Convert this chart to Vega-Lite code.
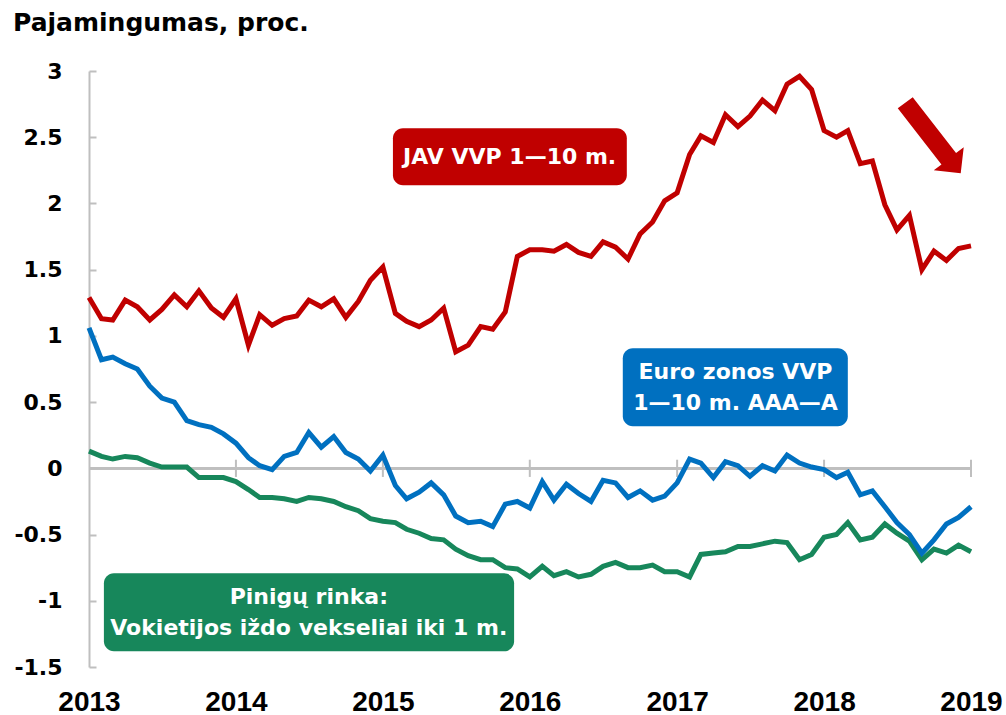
{
  "$schema": "https://vega.github.io/schema/vega-lite/v6.json",
  "autosize": {"type": "none"},
  "width": 882,
  "height": 596,
  "padding": {"left": 89, "top": 71, "right": 35, "bottom": 48},
  "background": "white",
  "config": {"view": {"stroke": null}, "axis": {"grid": false}},
  "title": {"text": "Pajamingumas, proc.", "anchor": "start", "frame": "group", "dx": -76, "offset": -1, "baseline": "bottom", "font": "DejaVu Sans", "fontSize": 25, "fontWeight": "bold", "color": "#000000"},
  "datasets": {
    "series": [
      {"date": "2013-01-01", "us": 1.29, "eu": 1.06, "de": 0.13},
      {"date": "2013-02-01", "us": 1.13, "eu": 0.82, "de": 0.09},
      {"date": "2013-03-01", "us": 1.12, "eu": 0.84, "de": 0.07},
      {"date": "2013-04-01", "us": 1.27, "eu": 0.79, "de": 0.09},
      {"date": "2013-05-01", "us": 1.22, "eu": 0.75, "de": 0.08},
      {"date": "2013-06-01", "us": 1.12, "eu": 0.62, "de": 0.04},
      {"date": "2013-07-01", "us": 1.20, "eu": 0.53, "de": 0.01},
      {"date": "2013-08-01", "us": 1.31, "eu": 0.50, "de": 0.01},
      {"date": "2013-09-01", "us": 1.22, "eu": 0.36, "de": 0.01},
      {"date": "2013-10-01", "us": 1.34, "eu": 0.33, "de": -0.07},
      {"date": "2013-11-01", "us": 1.21, "eu": 0.31, "de": -0.07},
      {"date": "2013-12-01", "us": 1.14, "eu": 0.26, "de": -0.07},
      {"date": "2014-01-01", "us": 1.28, "eu": 0.19, "de": -0.10},
      {"date": "2014-02-01", "us": 0.93, "eu": 0.08, "de": -0.16},
      {"date": "2014-03-01", "us": 1.16, "eu": 0.02, "de": -0.22},
      {"date": "2014-04-01", "us": 1.08, "eu": -0.01, "de": -0.22},
      {"date": "2014-05-01", "us": 1.13, "eu": 0.09, "de": -0.23},
      {"date": "2014-06-01", "us": 1.15, "eu": 0.12, "de": -0.25},
      {"date": "2014-07-01", "us": 1.27, "eu": 0.27, "de": -0.22},
      {"date": "2014-08-01", "us": 1.22, "eu": 0.16, "de": -0.23},
      {"date": "2014-09-01", "us": 1.28, "eu": 0.24, "de": -0.25},
      {"date": "2014-10-01", "us": 1.14, "eu": 0.12, "de": -0.29},
      {"date": "2014-11-01", "us": 1.26, "eu": 0.07, "de": -0.32},
      {"date": "2014-12-01", "us": 1.42, "eu": -0.02, "de": -0.38},
      {"date": "2015-01-01", "us": 1.52, "eu": 0.10, "de": -0.40},
      {"date": "2015-02-01", "us": 1.17, "eu": -0.13, "de": -0.41},
      {"date": "2015-03-01", "us": 1.11, "eu": -0.23, "de": -0.46},
      {"date": "2015-04-01", "us": 1.07, "eu": -0.18, "de": -0.49},
      {"date": "2015-05-01", "us": 1.12, "eu": -0.11, "de": -0.53},
      {"date": "2015-06-01", "us": 1.21, "eu": -0.20, "de": -0.54},
      {"date": "2015-07-01", "us": 0.88, "eu": -0.36, "de": -0.61},
      {"date": "2015-08-01", "us": 0.93, "eu": -0.41, "de": -0.66},
      {"date": "2015-09-01", "us": 1.07, "eu": -0.40, "de": -0.69},
      {"date": "2015-10-01", "us": 1.05, "eu": -0.44, "de": -0.69},
      {"date": "2015-11-01", "us": 1.18, "eu": -0.27, "de": -0.75},
      {"date": "2015-12-01", "us": 1.60, "eu": -0.25, "de": -0.76},
      {"date": "2016-01-01", "us": 1.65, "eu": -0.30, "de": -0.82},
      {"date": "2016-02-01", "us": 1.65, "eu": -0.10, "de": -0.74},
      {"date": "2016-03-01", "us": 1.64, "eu": -0.24, "de": -0.81},
      {"date": "2016-04-01", "us": 1.69, "eu": -0.12, "de": -0.78},
      {"date": "2016-05-01", "us": 1.63, "eu": -0.19, "de": -0.82},
      {"date": "2016-06-01", "us": 1.60, "eu": -0.25, "de": -0.80},
      {"date": "2016-07-01", "us": 1.71, "eu": -0.09, "de": -0.74},
      {"date": "2016-08-01", "us": 1.67, "eu": -0.11, "de": -0.71},
      {"date": "2016-09-01", "us": 1.58, "eu": -0.22, "de": -0.75},
      {"date": "2016-10-01", "us": 1.77, "eu": -0.17, "de": -0.75},
      {"date": "2016-11-01", "us": 1.86, "eu": -0.24, "de": -0.73},
      {"date": "2016-12-01", "us": 2.02, "eu": -0.21, "de": -0.78},
      {"date": "2017-01-01", "us": 2.08, "eu": -0.11, "de": -0.78},
      {"date": "2017-02-01", "us": 2.37, "eu": 0.07, "de": -0.82},
      {"date": "2017-03-01", "us": 2.51, "eu": 0.04, "de": -0.65},
      {"date": "2017-04-01", "us": 2.46, "eu": -0.07, "de": -0.64},
      {"date": "2017-05-01", "us": 2.67, "eu": 0.05, "de": -0.63},
      {"date": "2017-06-01", "us": 2.58, "eu": 0.02, "de": -0.59},
      {"date": "2017-07-01", "us": 2.66, "eu": -0.06, "de": -0.59},
      {"date": "2017-08-01", "us": 2.78, "eu": 0.02, "de": -0.57},
      {"date": "2017-09-01", "us": 2.70, "eu": -0.02, "de": -0.55},
      {"date": "2017-10-01", "us": 2.90, "eu": 0.10, "de": -0.56},
      {"date": "2017-11-01", "us": 2.96, "eu": 0.04, "de": -0.69},
      {"date": "2017-12-01", "us": 2.86, "eu": 0.01, "de": -0.65},
      {"date": "2018-01-01", "us": 2.55, "eu": -0.01, "de": -0.52},
      {"date": "2018-02-01", "us": 2.50, "eu": -0.07, "de": -0.50},
      {"date": "2018-03-01", "us": 2.55, "eu": -0.03, "de": -0.41},
      {"date": "2018-04-01", "us": 2.30, "eu": -0.20, "de": -0.54},
      {"date": "2018-05-01", "us": 2.32, "eu": -0.17, "de": -0.52},
      {"date": "2018-06-01", "us": 1.99, "eu": -0.29, "de": -0.42},
      {"date": "2018-07-01", "us": 1.80, "eu": -0.41, "de": -0.49},
      {"date": "2018-08-01", "us": 1.91, "eu": -0.50, "de": -0.55},
      {"date": "2018-09-01", "us": 1.50, "eu": -0.64, "de": -0.69},
      {"date": "2018-10-01", "us": 1.64, "eu": -0.54, "de": -0.61},
      {"date": "2018-11-01", "us": 1.57, "eu": -0.42, "de": -0.64},
      {"date": "2018-12-01", "us": 1.66, "eu": -0.37, "de": -0.58},
      {"date": "2019-01-01", "us": 1.68, "eu": -0.29, "de": -0.63}
    ],
    "years": [
      {"date": "2014-01-01"}, {"date": "2015-01-01"}, {"date": "2016-01-01"},
      {"date": "2017-01-01"}, {"date": "2018-01-01"}, {"date": "2019-01-01"}
    ],
    "boxes": [
      {"series": "JAV", "label": "JAV VVP 1—10 m.", "start": "2015-01-26", "end": "2016-08-29", "top": 2.568, "bottom": 2.137, "mid": "2015-11-12", "ty": 2.353},
      {"series": "EU", "label": "Euro zonos VVP\n1—10 m. AAA—A", "start": "2016-08-19", "end": "2018-03-01", "top": 0.906, "bottom": 0.317, "mid": "2017-05-26", "ty": 0.727},
      {"series": "DE", "label": "Pinigų rinka:\nVokietijos iždo vekseliai iki 1 m.", "start": "2013-02-07", "end": "2015-11-23", "top": -0.793, "bottom": -1.382, "mid": "2014-07-01", "ty": -0.974}
    ],
    "arrow": [
      {"series": "JAV", "date": "2018-09-23", "value": 2.515}
    ]
  },
  "encoding": {
    "x": {
      "field": "date", "type": "temporal",
      "scale": {"type": "utc", "domain": [{"year": 2013, "month": 1, "date": 1, "utc": true}, {"year": 2019, "month": 1, "date": 1, "utc": true}], "nice": false},
      "axis": {
        "title": null, "orient": "bottom", "domain": false, "ticks": false, "grid": false,
        "format": "%Y", "labelFlush": false, "labelOverlap": false, "labelPadding": 21,
        "values": [
          {"year": 2013, "month": 1, "date": 1, "utc": true},
          {"year": 2014, "month": 1, "date": 1, "utc": true},
          {"year": 2015, "month": 1, "date": 1, "utc": true},
          {"year": 2016, "month": 1, "date": 1, "utc": true},
          {"year": 2017, "month": 1, "date": 1, "utc": true},
          {"year": 2018, "month": 1, "date": 1, "utc": true},
          {"year": 2019, "month": 1, "date": 1, "utc": true}
        ],
        "labelFont": "Liberation Sans",
        "labelFontSize": 28, "labelFontWeight": "bold", "labelColor": "#000000"
      }
    }
  },
  "layer": [
    {
      "data": {"name": "series"},
      "mark": {"type": "rule", "color": "#bfbfbf", "strokeWidth": 2},
      "encoding": {"x": null, "y": {"datum": 0, "type": "quantitative",
        "scale": {"domain": [-1.5, 3], "nice": false, "zero": false},
        "axis": {
          "title": null, "values": [-1.5, -1, -0.5, 0, 0.5, 1, 1.5, 2, 2.5, 3],
          "labelExpr": "'' + datum.value",
          "domainColor": "#bfbfbf", "domainWidth": 2,
          "tickColor": "#bfbfbf", "tickWidth": 2, "tickSize": -7,
          "labelPadding": 34, "labelFont": "DejaVu Sans", "labelFontSize": 22,
          "labelFontWeight": "bold", "labelColor": "#000000", "grid": false
        }}}
    },
    {
      "data": {"name": "years"},
      "mark": {"type": "rule", "color": "#bfbfbf", "strokeWidth": 2},
      "encoding": {"y": {"datum": -0.065, "type": "quantitative"}, "y2": {"datum": 0.065}}
    },
    {
      "data": {"name": "series"},
      "mark": {"type": "line", "strokeWidth": 5, "strokeJoin": "miter", "color": "#17875b"},
      "encoding": {"y": {"field": "de", "type": "quantitative"}}
    },
    {
      "data": {"name": "series"},
      "mark": {"type": "line", "strokeWidth": 5, "strokeJoin": "miter", "color": "#0070c0"},
      "encoding": {"y": {"field": "eu", "type": "quantitative"}}
    },
    {
      "data": {"name": "series"},
      "mark": {"type": "line", "strokeWidth": 5, "strokeJoin": "miter", "color": "#c00000"},
      "encoding": {"y": {"field": "us", "type": "quantitative"}}
    },
    {
      "data": {"name": "boxes"},
      "mark": {"type": "rect", "cornerRadius": 10},
      "encoding": {
        "x": {"field": "start", "type": "temporal"},
        "x2": {"field": "end"},
        "y": {"field": "top", "type": "quantitative"},
        "y2": {"field": "bottom"},
        "color": {"field": "series", "type": "nominal", "scale": {"domain": ["JAV", "EU", "DE"], "range": ["#c00000", "#0070c0", "#17875b"]}, "legend": null}
      }
    },
    {
      "data": {"name": "boxes"},
      "mark": {"type": "text", "color": "#ffffff", "font": "DejaVu Sans", "fontSize": 22, "fontWeight": "bold", "align": "center", "baseline": "middle", "lineBreak": "\n", "lineHeight": 31},
      "encoding": {
        "x": {"field": "mid", "type": "temporal"},
        "y": {"field": "ty", "type": "quantitative"},
        "text": {"field": "label"}
      }
    },
    {
      "data": {"name": "arrow"},
      "mark": {"type": "point", "filled": true, "opacity": 1, "strokeWidth": 0, "size": 5776,
        "shape": "M -0.868 -0.711 L -0.474 -1 L 0.666 0.466 L 0.868 0.316 L 0.789 1 L 0.079 0.921 L 0.282 0.771 Z"},
      "encoding": {
        "x": {"field": "date", "type": "temporal"},
        "y": {"field": "value", "type": "quantitative"},
        "color": {"field": "series", "type": "nominal", "legend": null}
      }
    }
  ]
}
